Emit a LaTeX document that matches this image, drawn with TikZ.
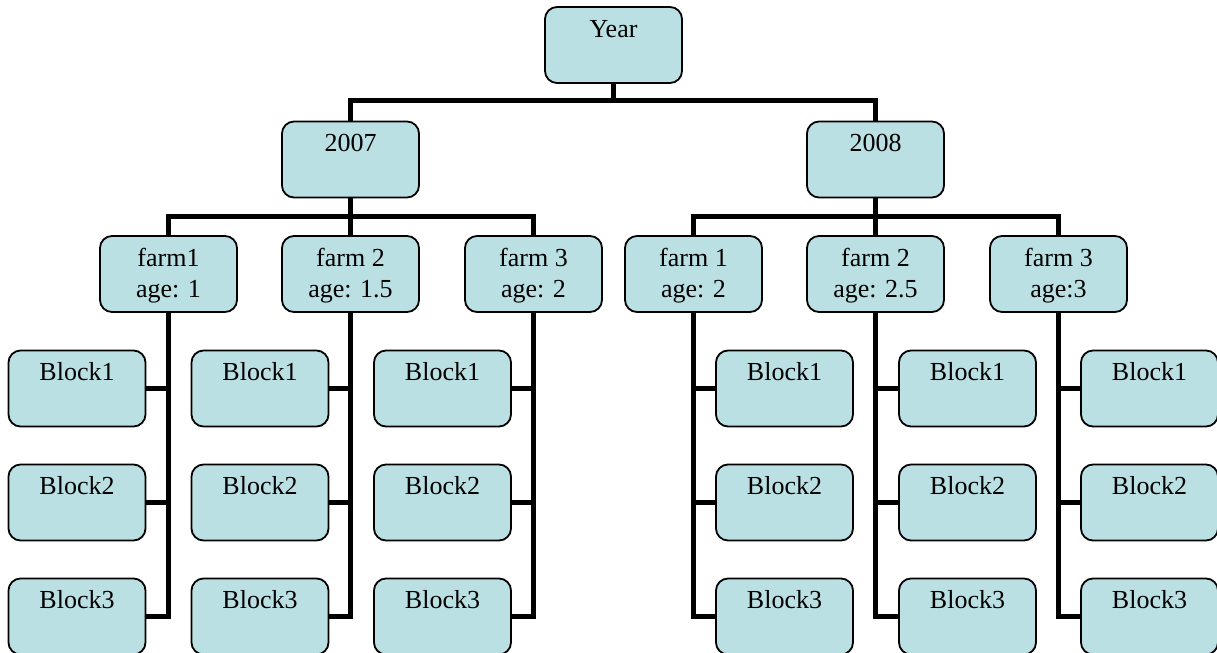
\documentclass[tikz,border=0pt]{standalone}
\usepackage{fontspec}
\setmainfont{Liberation Serif}
\definecolor{boxfill}{RGB}{187,224,227}

\begin{document}
\begin{tikzpicture}[x=0.5pt,y=-0.5pt,
    box/.style={draw, rounded corners=6pt, fill=boxfill, line width=0.9pt,
        minimum width=68.5pt, minimum height=38pt, inner ysep=0pt,
        text height=15pt, text depth=23pt, align=center,
        font=\fontsize{13}{15.5}\selectfont},
    farm/.style={box, text height=30.5pt, text depth=7.5pt},
    link/.style={line width=2.5pt}]

    \useasboundingbox (0,0) rectangle (1217,653);

    % top levels
    \node[box] (year) at (613.5,45) {Year};
    \node[box] (y07) at (350.5,159.5) {2007};
    \node[box] (y08) at (875.5,159.5) {2008};

    % farms
    \node[farm] (f71) at (168.5,274) {farm1\\age: 1};
    \node[farm] (f72) at (350.5,274) {farm 2\\age: 1.5};
    \node[farm] (f73) at (533.5,274) {farm 3\\age: 2};
    \node[farm] (f81) at (693.5,274) {farm 1\\age: 2};
    \node[farm] (f82) at (875.5,274) {farm 2\\age: 2.5};
    \node[farm] (f83) at (1058.5,274) {farm 3\\age:3};

    % blocks of 2007
    \node[box] (b71a) at (77,388.5) {Block1};
    \node[box] (b71b) at (77,502.5) {Block2};
    \node[box] (b71c) at (77,616.5) {Block3};
    \node[box] (b72a) at (260,388.5) {Block1};
    \node[box] (b72b) at (260,502.5) {Block2};
    \node[box] (b72c) at (260,616.5) {Block3};
    \node[box] (b73a) at (442.5,388.5) {Block1};
    \node[box] (b73b) at (442.5,502.5) {Block2};
    \node[box] (b73c) at (442.5,616.5) {Block3};

    % blocks of 2008
    \node[box] (b81a) at (784.5,388.5) {Block1};
    \node[box] (b81b) at (784.5,502.5) {Block2};
    \node[box] (b81c) at (784.5,616.5) {Block3};
    \node[box] (b82a) at (967.5,388.5) {Block1};
    \node[box] (b82b) at (967.5,502.5) {Block2};
    \node[box] (b82c) at (967.5,616.5) {Block3};
    \node[box] (b83a) at (1149.5,388.5) {Block1};
    \node[box] (b83b) at (1149.5,502.5) {Block2};
    \node[box] (b83c) at (1149.5,616.5) {Block3};

    % bus points
    \coordinate (busY) at (613.5,100);
    \coordinate (bus7) at (350.5,216);
    \coordinate (bus8) at (875.5,216);

    \draw[link] (year.south) -- (busY) -| (y07.north);
    \draw[link] (busY) -| (y08.north);

    \draw[link] (y07.south) -- (bus7) -| (f71.north);
    \draw[link] (bus7) -| (f73.north);
    \draw[link] (bus7) -- (f72.north);
    \draw[link] (y08.south) -- (bus8) -| (f81.north);
    \draw[link] (bus8) -| (f83.north);
    \draw[link] (bus8) -- (f82.north);

    \draw[link] (f71.south) |- (b71c.east);
    \draw[link] (b71a.east) -- (f71.south |- b71a);
    \draw[link] (b71b.east) -- (f71.south |- b71b);
    \draw[link] (f72.south) |- (b72c.east);
    \draw[link] (b72a.east) -- (f72.south |- b72a);
    \draw[link] (b72b.east) -- (f72.south |- b72b);
    \draw[link] (f73.south) |- (b73c.east);
    \draw[link] (b73a.east) -- (f73.south |- b73a);
    \draw[link] (b73b.east) -- (f73.south |- b73b);

    \draw[link] (f81.south) |- (b81c.west);
    \draw[link] (b81a.west) -- (f81.south |- b81a);
    \draw[link] (b81b.west) -- (f81.south |- b81b);
    \draw[link] (f82.south) |- (b82c.west);
    \draw[link] (b82a.west) -- (f82.south |- b82a);
    \draw[link] (b82b.west) -- (f82.south |- b82b);
    \draw[link] (f83.south) |- (b83c.west);
    \draw[link] (b83a.west) -- (f83.south |- b83a);
    \draw[link] (b83b.west) -- (f83.south |- b83b);

\end{tikzpicture}
\end{document}
